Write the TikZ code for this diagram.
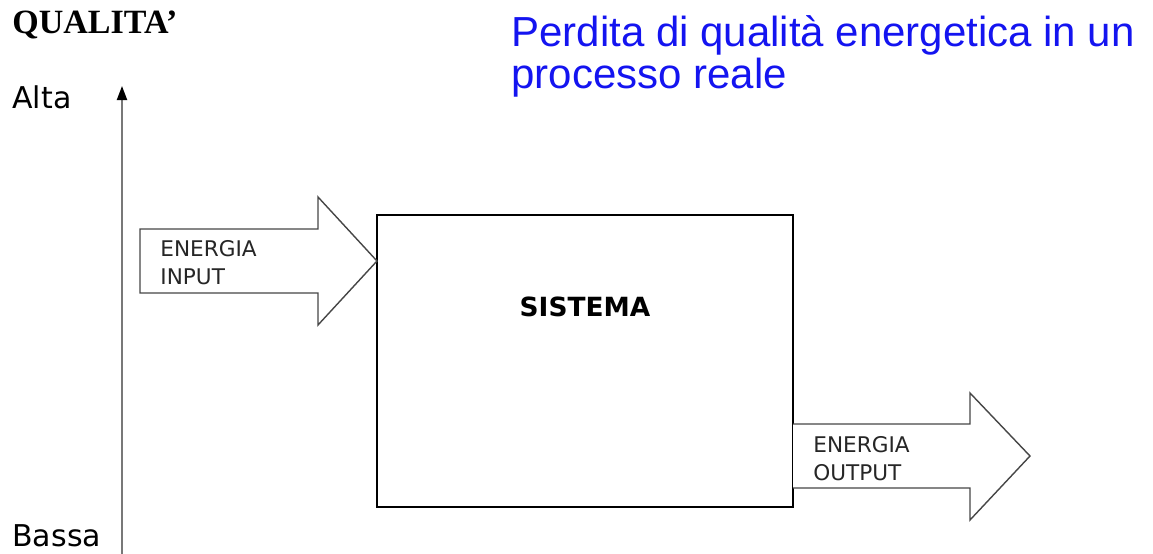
\documentclass[tikz,border=0pt]{standalone}
\usepackage{fontspec}
\setmainfont{Liberation Serif}
\setsansfont{DejaVu Sans}
\newfontfamily\titlefont{Liberation Sans}
\usetikzlibrary{arrows.meta}
\definecolor{titleblue}{RGB}{20,20,240}
\definecolor{axisgray}{RGB}{120,120,120}
\definecolor{arrowgray}{RGB}{70,70,70}
\tikzset{
  flowarrow/.style={draw=arrowgray, line width=0.7pt, fill=white},
  flowlabel/.style={anchor=base west, inner sep=0pt, align=left, font=\sffamily\fontsize{10.8}{14}\selectfont, text=black!85},
  levellabel/.style={anchor=base west, inner sep=0pt, font=\sffamily\fontsize{15}{16}\selectfont}
}

\begin{document}
\begin{tikzpicture}[x=0.5pt,y=-0.5pt]
\useasboundingbox (0,0) rectangle (1153,553);
% axis
\coordinate (axisbot) at (122,560);
\coordinate (axistop) at (122,86);
\draw[axisgray, line width=1pt, -{Triangle[black, length=7pt, width=5pt]}] (axisbot) -- (axistop);
\node[anchor=base west, inner sep=0pt, font=\bfseries\fontsize{17}{18}\selectfont] (qual) at (12,33) {QUALITA'};
\node[levellabel] (alta) at (12,108) {Alta};
\node[levellabel] (bassa) at (12,546) {Bassa};
% title (base = last line)
\node[anchor=base west, inner sep=0pt, align=left, text=titleblue,
  font=\titlefont\fontsize{21}{19}\selectfont] (title) at (511,88)
  {Perdita di qualità energetica in un\\processo reale};
% system
\draw[black, line width=0.8pt] (377,215) rectangle (793,507);
\node[font=\sffamily\bfseries\fontsize{13.2}{16}\selectfont, inner sep=0pt] (sistema) at (585,307) {SISTEMA};
% input arrow
\draw[flowarrow] (140,229) -- (318,229) -- (318,197) -- (377,261)
  -- (318,325) -- (318,293) -- (140,293) -- cycle;
\node[flowlabel] (input) at (160,284) {ENERGIA\\INPUT};
% output arrow
\draw[flowarrow] (793,424) -- (970,424) -- (970,393) -- (1030,456)
  -- (970,520) -- (970,488) -- (793,488);
\node[flowlabel] (output) at (813,480) {ENERGIA\\OUTPUT};
\end{tikzpicture}
\end{document}
